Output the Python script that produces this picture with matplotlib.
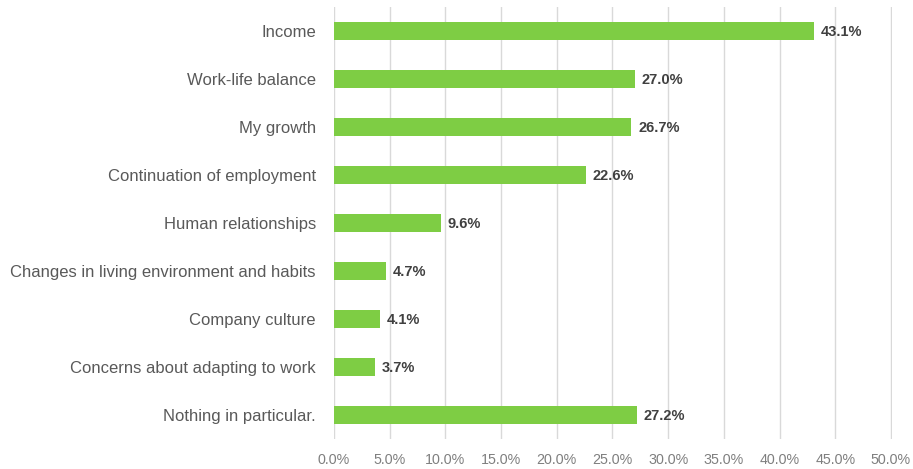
import matplotlib.pyplot as plt
import numpy as np

plt.rcParams['font.family'] = ['Liberation Sans', 'DejaVu Sans']

# survey answers, top to bottom
categories = [
    "Income",
    "Work-life balance",
    "My growth",
    "Continuation of employment",
    "Human relationships",
    "Changes in living environment and habits",
    "Company culture",
    "Concerns about adapting to work",
    "Nothing in particular.",
]
shares = [43.1, 27.0, 26.7, 22.6, 9.6, 4.7, 4.1, 3.7, 27.2]
xticks = np.arange(0, 51, 5)

fig = plt.figure(figsize=(9.13, 4.69), dpi=100)
ax = fig.add_axes([0.3658, 0.064, 0.6112, 0.921])

y = np.arange(len(categories))
ax.barh(y, shares, height=0.36, color="#7ECD44", zorder=2)

for yi, v in zip(y, shares):
    ax.text(v + 0.6, yi + 0.02, f"{v:.1f}%", va="center", ha="left",
            fontsize=10.5, fontweight="bold", color="#404040")

ax.set_ylim(len(categories) - 0.5, -0.5)
ax.set_xlim(0, 50.1)
ax.set_yticks(y)
ax.set_yticklabels(categories, fontsize=12, color="#595959")
ax.set_xticks(xticks)
ax.set_xticklabels([f"{t:.1f}%" for t in xticks], fontsize=10.3, color="#7F7F7F")
ax.tick_params(axis="both", length=0)
ax.tick_params(axis="y", pad=13)
ax.tick_params(axis="x", pad=10)
ax.grid(axis="x", color="#D9D9D9", linewidth=1, zorder=0)
for s in ax.spines.values():
    s.set_visible(False)

fig.savefig("out.png", dpi=100)
